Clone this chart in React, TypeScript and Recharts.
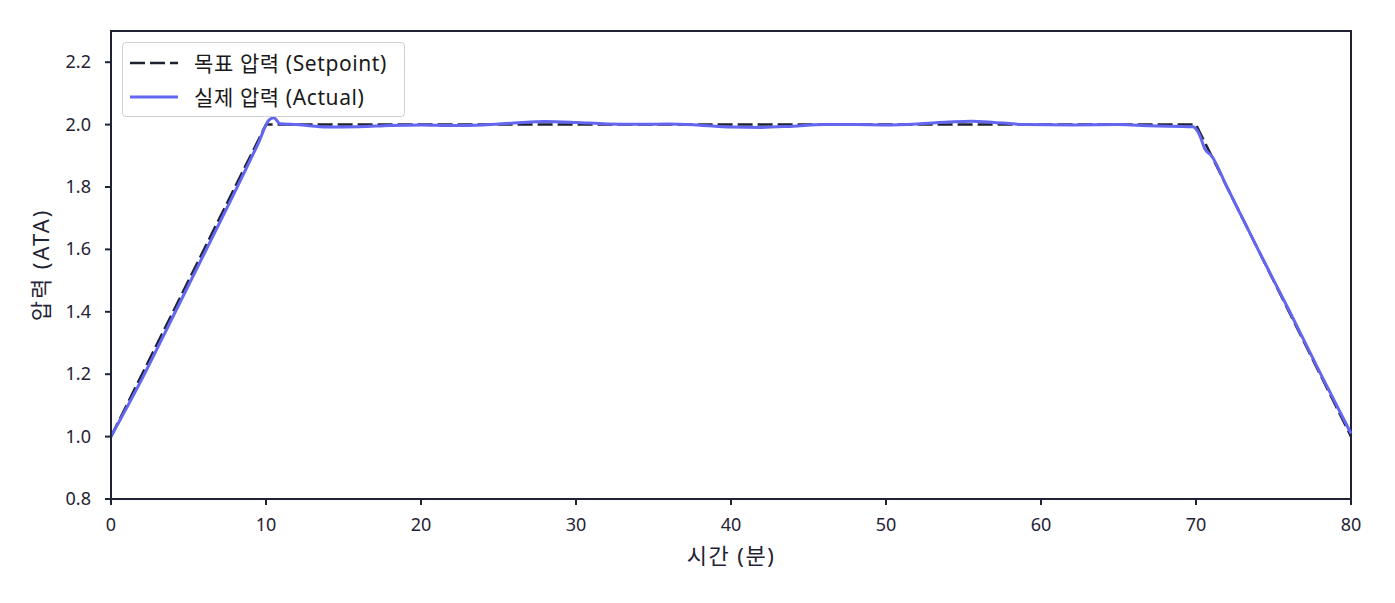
import { Line, LineChart, ReferenceArea, XAxis, YAxis } from "recharts"

const setpointTime = [0, 10, 70, 80]
const setpointPressure = [1.0, 2.0, 2.0, 1.0]

const actualTime = [
  0, 2, 4, 6, 8, 9.5, 10.2, 10.5, 10.9, 12, 14, 16, 18, 20, 22, 24, 26, 28, 30, 32, 34, 36, 38, 40, 42, 44, 46,
  48, 50, 52, 54, 55.5, 57, 59, 62, 65, 67, 69.8, 70.2, 70.6, 71, 72, 74, 76, 78, 80,
]
const actualPressure = [
  1.0, 1.185, 1.385, 1.585, 1.785, 1.94, 2.015, 2.022, 2.003, 2.0, 1.992, 1.993, 1.997, 1.999, 1.997, 1.999,
  2.005, 2.01, 2.007, 2.002, 2.001, 2.002, 1.998, 1.992, 1.991, 1.995, 2.0, 2.0, 1.999, 2.002, 2.008, 2.011,
  2.007, 2.0, 1.999, 2.0, 1.996, 1.993, 1.97, 1.92, 1.9, 1.8, 1.6, 1.405, 1.205, 1.01,
]

const xTicks = [0, 10, 20, 30, 40, 50, 60, 70, 80]
const yTicks = [0.8, 1.0, 1.2, 1.4, 1.6, 1.8, 2.0, 2.2]

const setpointData = setpointTime.map((t, i) => ({ t, p: setpointPressure[i] }))
const actualData = actualTime.map((t, i) => ({ t, p: actualPressure[i] }))

const axisColor = "#1f2335"
const font = "'Noto Sans', 'Noto Sans CJK KR', sans-serif"

function XTick(props: any) {
  const { x, y, payload } = props
  return (
    <text x={x} y={y + 24} textAnchor="middle" fill={axisColor} fontSize={18} fontFamily={font}>
      {payload.value}
    </text>
  )
}

function YTick(props: any) {
  const { x, y, payload } = props
  return (
    <text x={x - 12} y={y + 6} textAnchor="end" fill={axisColor} fontSize={18} fontFamily={font}>
      {Number(payload.value).toFixed(1)}
    </text>
  )
}

function LegendBox() {
  return (
    <div
      style={{
        position: "absolute",
        left: 122,
        top: 42,
        width: 283,
        height: 75,
        boxSizing: "border-box",
        border: "1.5px solid #d0d0d0",
        borderRadius: 4,
        background: "rgba(255,255,255,0.85)",
        fontFamily: font,
        fontSize: 21,
        letterSpacing: 0.6,
        color: "#1a1a1a",
      }}
    >
      <div style={{ position: "absolute", left: 7, top: 5, height: 30, display: "flex", alignItems: "center" }}>
        <svg width={48} height={24}>
          <line x1={0} y1={12} x2={48} y2={12} stroke="#1e2130" strokeWidth={2.5} strokeDasharray="15 5" />
        </svg>
        <span style={{ marginLeft: 16, lineHeight: "30px" }}>목표 압력 (Setpoint)</span>
      </div>
      <div style={{ position: "absolute", left: 7, top: 39, height: 30, display: "flex", alignItems: "center" }}>
        <svg width={48} height={24}>
          <line x1={0} y1={12} x2={48} y2={12} stroke="#6366f1" strokeWidth={3} />
        </svg>
        <span style={{ marginLeft: 16, lineHeight: "30px" }}>실제 압력 (Actual)</span>
      </div>
    </div>
  )
}

export default function App() {
  return (
    <div style={{ position: "absolute", left: 0, top: 0, width: 1395, height: 603, background: "#fff" }}>
      <LineChart width={1395} height={603} margin={{ top: 31, right: 44, bottom: 34, left: 21 }}>
        <XAxis
          xAxisId="b"
          type="number"
          dataKey="t"
          domain={[0, 80]}
          ticks={xTicks}
          allowDuplicatedCategory={false}
          height={70}
          stroke={axisColor}
          strokeWidth={2}
          tickSize={6}
          tick={(p: any) => <XTick {...p} />}
          tickMargin={2}
          label={{ value: "시간 (분)", position: "insideBottom", offset: 5, fill: axisColor, fontSize: 22, fontFamily: font, letterSpacing: 1.5 }}
        />
        <YAxis
          yAxisId="l"
          type="number"
          domain={[0.8, 2.3]}
          ticks={yTicks}
          width={90}
          stroke={axisColor}
          strokeWidth={2}
          tickSize={6}
          tick={(p: any) => <YTick {...p} />}
          tickMargin={2}
          label={{ value: "압력 (ATA)", angle: -90, position: "insideLeft", offset: 20, fill: axisColor, fontSize: 22, fontFamily: font, letterSpacing: 2, style: { textAnchor: "middle" } }}
        />
        <ReferenceArea
          xAxisId="b"
          yAxisId="l"
          x1={0}
          x2={80}
          y1={0.8}
          y2={2.3}
          fill="none"
          stroke={axisColor}
          strokeWidth={2}
        />
        <Line
          xAxisId="b"
          yAxisId="l"
          data={setpointData}
          dataKey="p"
          type="linear"
          stroke="#1e2130"
          strokeWidth={2.5}
          strokeDasharray="15 5"
          dot={false}
          isAnimationActive={false}
        />
        <Line
          xAxisId="b"
          yAxisId="l"
          data={actualData}
          dataKey="p"
          type="monotone"
          stroke="#6366f1"
          strokeWidth={3}
          dot={false}
          isAnimationActive={false}
        />
      </LineChart>
      <LegendBox />
    </div>
  )
}
